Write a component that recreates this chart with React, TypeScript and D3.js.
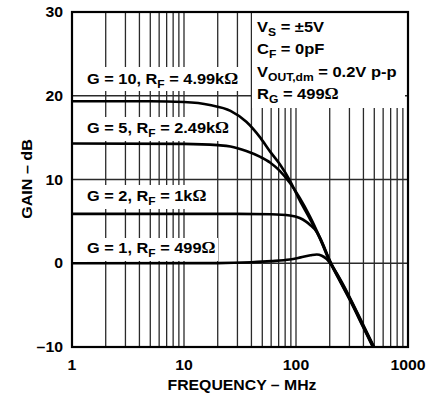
import React from "react";
import * as d3 from "d3";

// ---- data (frequency MHz, gain dB) ----
const tail1: [number, number][] = [[250, -2.1], [300, -4.1], [400, -7.5], [495, -10]];
const g10Series: [number, number][] = [
  [1, 19.35], [5, 19.35], [10, 19.25], [17, 18.9], [26, 18.2], [36, 16.9], [48, 15.0],
  [59, 13.3], [72, 11.8], [88, 9.9], [108, 7.5], [133, 5.3], [164, 2.9], [200, 0.2],
  [250, -2.3], [300, -4.3], [400, -7.7], [485, -10],
];
const g5Series: [number, number][] = [
  [1, 14.3], [10, 14.25], [20, 14.1], [26, 13.95], [36, 13.4], [48, 12.7], [59, 12.0],
  [72, 11.0], [88, 9.6], [108, 7.8], [133, 5.6], [164, 3.0], [200, 0.3],
  [250, -2.2], [300, -4.2], [400, -7.6], [490, -10],
];
const g2Series: [number, number][] = [
  [1, 5.9], [30, 5.9], [60, 5.85], [88, 5.7], [108, 5.4], [122, 5.0], [133, 4.6],
  [154, 3.7], [170, 2.6], [200, 0.35], ...tail1,
];
const g1Series: [number, number][] = [
  [1, 0], [20, 0.02], [40, 0.12], [60, 0.25], [88, 0.45], [110, 0.7], [135, 0.95],
  [153, 1.05], [170, 0.9], [188, 0.5], [208, -0.25], [250, -2.0], [300, -4.0], [400, -7.4], [498, -10],
];
const seriesList = [g10Series, g5Series, g2Series, g1Series];

const yTicks = [30, 20, 10, 0, -10];
const yTickLabels = ["30", "20", "10", "0", "–10"];
const xTicks = [1, 10, 100, 1000];
const xTickLabels = ["1", "10", "100", "1000"];
const xTitle = "FREQUENCY – MHz";
const yTitle = "GAIN – dB";

// curve labels: [main1, sub, main2, unit]
const curveLabels: [string, string, string, string][] = [
  ["G = 10, R", "F", " = 4.99k", "Ω"],
  ["G = 5, R", "F", " = 2.49k", "Ω"],
  ["G = 2, R", "F", " = 1k", "Ω"],
  ["G = 1, R", "F", " = 499", "Ω"],
];
const noteLines: [string, string, string, string][] = [
  ["V", "S", " = ±5V", ""],
  ["C", "F", " = 0pF", ""],
  ["V", "OUT,dm", " = 0.2V p-p", ""],
  ["R", "G", " = 499", "Ω"],
];

const FONT = "'Liberation Sans', Arial, Helvetica, sans-serif";
const SERIF = "'Liberation Serif', 'Times New Roman', serif";

function SText(props: {
  x: number; y: number; sx: number; size: number; anchor?: string; dy?: string; children: React.ReactNode;
}) {
  const { x, y, sx, size, anchor, dy, children } = props;
  return (
    <g transform={`translate(${x},${y}) scale(${sx},1)`}>
      <text x={0} y={0} dy={dy} fontSize={size} textAnchor={anchor || "start"}>
        {children}
      </text>
    </g>
  );
}

export default function App() {
  const W = 436, H = 396;
  const L = 72, R = 408, T = 12, B = 347;
  const x = d3.scaleLog().domain([1, 1000]).range([L, R]);
  const y = d3.scaleLinear().domain([-10, 30]).range([B, T]);

  const minor: number[] = [];
  for (const dec of [1, 10, 100]) for (let k = 2; k <= 10; k++) if (dec * k < 1000) minor.push(dec * k);

  const line = d3
    .line<[number, number]>()
    .x((d) => x(d[0]))
    .y((d) => y(d[1]))
    .curve(d3.curveMonotoneX);

  // label boxes: [x0, y0, x1, y1, textX, baseline]
  const labelBoxes = [
    [L, 67, 240, 91, 87, 84],
    [L, 117, 236, 141, 87, 133],
    [L, 185, 210, 209, 87, 201],
    [L, 238, 218, 261, 87, 253],
  ];
  const noteBox = [252, T, 405, 108];
  const noteX = 257;
  const noteBase = [32, 54, 77, 99];

  const fs = 15;
  const sub = 11;
  const sxLabel = 1.09;
  const sxNote = 1.1;

  const renderRich = (lb: [string, string, string, string]) => (
    <>
      {lb[0]}
      <tspan fontSize={sub} dy={4}>{lb[1]}</tspan>
      <tspan dy={-4}>{lb[2]}</tspan>
      {lb[3] ? <tspan fontFamily={SERIF} fontSize={fs + 1}>{lb[3]}</tspan> : null}
    </>
  );

  return (
    <svg width={W} height={H} style={{ display: "block", position: "absolute", left: 0, top: 0 }}>
      <rect x={0} y={0} width={W} height={H} fill="#fff" />
      {/* grid */}
      {minor.map((f) => (
        <line key={"v" + f} x1={x(f)} x2={x(f)} y1={T} y2={B} stroke="#2a2a2a" strokeWidth={1.3} />
      ))}
      {yTicks.map((t) => (
        <line key={"h" + t} x1={L} x2={R} y1={y(t)} y2={y(t)} stroke="#2a2a2a" strokeWidth={1.3} />
      ))}
      {/* label boxes */}
      {labelBoxes.map((b, i) => (
        <rect key={"b" + i} x={b[0]} y={b[1]} width={b[2] - b[0]} height={b[3] - b[1]} fill="#fff" />
      ))}
      <rect x={noteBox[0]} y={noteBox[1]} width={noteBox[2] - noteBox[0]} height={noteBox[3] - noteBox[1]} fill="#fff" />
      {/* curves */}
      {seriesList.map((s, i) => (
        <path key={"c" + i} d={line(s) || ""} fill="none" stroke="#000" strokeWidth={2.6} />
      ))}
      {/* border */}
      <rect x={L} y={T} width={R - L} height={B - T} fill="none" stroke="#000" strokeWidth={2.2} />
      {/* labels */}
      <g fontFamily={FONT} fontWeight="bold" fill="#000">
        {curveLabels.map((lb, i) => (
          <SText key={"t" + i} x={labelBoxes[i][4]} y={labelBoxes[i][5]} sx={sxLabel} size={fs}>
            {renderRich(lb)}
          </SText>
        ))}
        {noteLines.map((lb, i) => (
          <SText key={"n" + i} x={noteX} y={noteBase[i]} sx={sxNote} size={fs}>
            {renderRich(lb)}
          </SText>
        ))}
        {yTicks.map((t, i) => (
          <SText key={"yl" + t} x={63} y={y(t)} dy="0.36em" anchor="end" sx={1.13} size={14}>
            {yTickLabels[i]}
          </SText>
        ))}
        {xTicks.map((t, i) => (
          <SText key={"xl" + t} x={x(t)} y={370} anchor="middle" sx={1.13} size={14}>
            {xTickLabels[i]}
          </SText>
        ))}
        <SText x={242} y={390} anchor="middle" sx={1.13} size={14}>{xTitle}</SText>
        <g transform="translate(32,179) rotate(-90) scale(1.15,1)">
          <text textAnchor="middle" fontSize={14}>{yTitle}</text>
        </g>
      </g>
    </svg>
  );
}
